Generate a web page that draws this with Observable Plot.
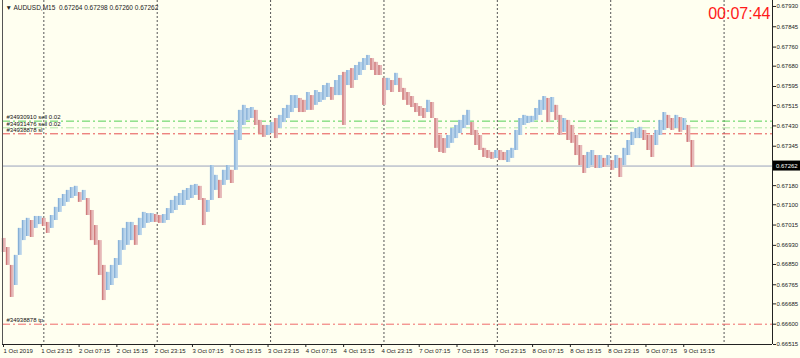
<!DOCTYPE html>
<html><head><meta charset="utf-8">
<script src="https://cdn.jsdelivr.net/npm/d3@7"></script>
<script src="https://cdn.jsdelivr.net/npm/@observablehq/plot@0.6"></script>
<style>
html,body{margin:0;padding:0;background:#fffff0;}
#chart svg{display:block}
</style></head><body><div id="chart"></div>
<script>
const headerText = "▼ AUDUSD,M15  0.67264 0.67298 0.67260 0.67262";
const clockText = "00:07:44";

// candle groups (each ~3.39 M15 bars), high and low prices
const hi = [0.66959,0.66921,0.66846,0.66888,0.67001,0.67034,0.67043,0.67034,0.67051,0.67051,
0.67043,0.67026,0.67055,0.67089,0.67126,0.67143,0.67160,0.67172,0.67177,0.67151,
0.67160,0.67126,0.67076,0.67013,0.66950,0.66846,0.66817,0.66846,0.66875,0.66950,
0.67001,0.67026,0.67026,0.67013,0.67043,0.67068,0.67063,0.67063,0.67059,0.67055,
0.67059,0.67084,0.67118,0.67135,0.67147,0.67160,0.67168,0.67181,0.67185,0.67177,
0.67126,0.67118,0.67264,0.67223,0.67202,0.67244,0.67264,0.67244,0.67411,0.67495,
0.67516,0.67503,0.67507,0.67495,0.67453,0.67432,0.67432,0.67444,0.67461,0.67474,
0.67503,0.67516,0.67557,0.67557,0.67545,0.67537,0.67570,0.67557,0.67578,0.67570,
0.67599,0.67608,0.67591,0.67620,0.67641,0.67654,0.67662,0.67670,0.67683,0.67696,
0.67712,0.67725,0.67712,0.67696,0.67683,0.67629,0.67629,0.67620,0.67650,0.67629,
0.67587,0.67570,0.67553,0.67524,0.67511,0.67503,0.67537,0.67528,0.67461,0.67390,
0.67377,0.67390,0.67419,0.67432,0.67453,0.67474,0.67495,0.67444,0.67411,0.67390,
0.67336,0.67327,0.67319,0.67327,0.67327,0.67319,0.67327,0.67336,0.67411,0.67461,
0.67474,0.67470,0.67470,0.67503,0.67537,0.67553,0.67545,0.67549,0.67516,0.67474,
0.67461,0.67453,0.67432,0.67390,0.67348,0.67306,0.67319,0.67327,0.67306,0.67306,
0.67294,0.67306,0.67285,0.67306,0.67294,0.67336,0.67369,0.67403,0.67419,0.67424,
0.67411,0.67390,0.67390,0.67411,0.67453,0.67486,0.67474,0.67461,0.67474,0.67465,
0.67461,0.67432,0.67369];
const lo = [0.66900,0.66846,0.66712,0.66762,0.66888,0.66950,0.66967,0.66963,0.67001,0.67017,
0.67009,0.66980,0.67001,0.67034,0.67068,0.67093,0.67110,0.67126,0.67135,0.67110,
0.67118,0.67055,0.66950,0.66930,0.66804,0.66699,0.66741,0.66762,0.66791,0.66846,
0.66909,0.66930,0.66950,0.66930,0.66971,0.67001,0.67022,0.67026,0.67026,0.67022,
0.67022,0.67034,0.67063,0.67076,0.67097,0.67097,0.67118,0.67126,0.67139,0.67118,
0.67013,0.67068,0.67118,0.67160,0.67126,0.67181,0.67202,0.67189,0.67244,0.67369,
0.67432,0.67453,0.67461,0.67432,0.67398,0.67382,0.67390,0.67398,0.67377,0.67419,
0.67444,0.67461,0.67486,0.67503,0.67486,0.67486,0.67495,0.67495,0.67516,0.67528,
0.67537,0.67549,0.67537,0.67557,0.67557,0.67432,0.67599,0.67587,0.67620,0.67641,
0.67662,0.67683,0.67662,0.67641,0.67641,0.67516,0.67578,0.67570,0.67599,0.67570,
0.67537,0.67516,0.67507,0.67486,0.67470,0.67461,0.67486,0.67461,0.67336,0.67319,
0.67315,0.67336,0.67357,0.67377,0.67398,0.67419,0.67432,0.67390,0.67348,0.67327,
0.67298,0.67294,0.67290,0.67294,0.67285,0.67285,0.67277,0.67294,0.67327,0.67390,
0.67432,0.67440,0.67444,0.67453,0.67474,0.67495,0.67444,0.67486,0.67453,0.67390,
0.67403,0.67369,0.67357,0.67306,0.67264,0.67231,0.67252,0.67264,0.67252,0.67252,
0.67256,0.67264,0.67244,0.67252,0.67214,0.67264,0.67306,0.67348,0.67377,0.67377,
0.67369,0.67327,0.67298,0.67348,0.67390,0.67411,0.67419,0.67411,0.67419,0.67403,
0.67411,0.67361,0.67256];
const firstBar = 1;
const barsPerCandle = 3.39;

const xTickBars = [0,32,64,96,128,160,192,224,256,288,320,352,384,416,448,480,512,544,576];
const xTickLabels = ["1 Oct 2019","1 Oct 23:15","2 Oct 07:15","2 Oct 15:15","2 Oct 23:15","3 Oct 07:15",
"3 Oct 15:15","3 Oct 23:15","4 Oct 07:15","4 Oct 15:15","4 Oct 23:15","7 Oct 07:15","7 Oct 15:15",
"7 Oct 23:15","8 Oct 07:15","8 Oct 15:15","8 Oct 23:15","9 Oct 07:15","9 Oct 15:15"];
const daySeparatorBars = [35,131,227,323,419,515,611];
const xDomain = [0, 652];

const yTickValues = [0.67930,0.67845,0.67760,0.67680,0.67595,0.67515,0.67430,0.67345,0.67180,
0.67100,0.67015,0.66930,0.66850,0.66765,0.66685,0.66600,0.66515];
const yDomain = [0.66515, 0.67955];
const currentPrice = 0.67262;

const orderLabels = ["#34930910 sell 0.02", "#34931476 sell 0.02", "#34938878 sl", "#34938878 tp"];
const orderPrices = [0.67450, 0.67422, 0.67397, 0.66600];
const orderColors = ["#55d055", "#aee6a4", "#e65050", "#ef6a6a"];
const orderWeights = ["normal", "normal", "bold", "bold"];

const candles = hi.map((h, i) => ({
  bar: firstBar + i * barsPerCandle,
  hi: h, lo: lo[i],
  up: i === 0 ? false : (h + lo[i]) >= (hi[i-1] + lo[i-1])
}));
const orders = orderLabels.map((l, i) => ({label: l, price: orderPrices[i], color: orderColors[i], weight: orderWeights[i]}));
const tickLabelMap = new Map(xTickBars.map((b, i) => [b, xTickLabels[i]]));

const FONT = "Liberation Sans, Arial, sans-serif";

const chart = Plot.plot({
  width: 800, height: 358,
  marginTop: 0, marginBottom: 14, marginLeft: 2, marginRight: 28,
  style: {background: "#fffff0", fontFamily: FONT, color: "#222"},
  x: {domain: xDomain, axis: null},
  y: {domain: yDomain, axis: null},
  marks: [
    Plot.ruleX(daySeparatorBars, {stroke: "#555", strokeWidth: 1, strokeDasharray: "2,2"}),
    Plot.ruleY([currentPrice], {stroke: "#9aa3bc", strokeWidth: 1}),
    Plot.ruleY(orders, {y: "price", stroke: "color", strokeWidth: 1, strokeDasharray: "8,3,2,3"}),
    Plot.ruleX(candles, {x: "bar", y1: "lo", y2: "hi", stroke: d => d.up ? "#b6d2ea" : "#e6b8b8", strokeWidth: 4.1}),
    Plot.ruleX(candles, {x: "bar", y1: "lo", y2: "hi", dx: -1, stroke: d => d.up ? "#7aa7d2" : "#c96a6a", strokeWidth: 1}),
    Plot.text(orders, {y: "price", text: "label", frameAnchor: "left", textAnchor: "start", dx: 4, dy: -4,
      fontSize: 6, fill: "#111", fontWeight: "weight"}),
    Plot.ruleX([xDomain[0]], {stroke: "#555", strokeWidth: 1}),
    Plot.ruleX([xDomain[1]], {stroke: "#222", strokeWidth: 1}),
    Plot.ruleY([yDomain[0]], {stroke: "#222", strokeWidth: 1}),
    Plot.axisY({anchor: "right", ticks: yTickValues, tickFormat: d3.format(".5f"), tickSize: 3, tickPadding: 1,
      fontSize: 6, fill: "#222", stroke: "#222", label: null}),
    Plot.axisX({anchor: "bottom", ticks: xTickBars, tickFormat: d => tickLabelMap.get(d), tickSize: 3, tickPadding: 1,
      textAnchor: "start", dx: 1, fontSize: 6, fill: "#222", stroke: "#222", label: null}),
    Plot.text([headerText], {frameAnchor: "top-left", textAnchor: "start", lineAnchor: "middle", dx: 3, dy: 7,
      fontSize: 6.5, fill: "#222"}),
    Plot.text([clockText], {frameAnchor: "top-right", textAnchor: "end", lineAnchor: "middle", dx: -2, dy: 13,
      fontSize: 16, fill: "#ff1a1a", fontFamily: FONT})
  ]
});

// current price marker on the price axis
const svg = d3.select(chart);
const yc = chart.scale("y").apply(currentPrice);
const xr = chart.scale("x").apply(xDomain[1]);
svg.append("rect").attr("x", xr + 1).attr("y", yc - 5).attr("width", 800 - xr - 1).attr("height", 10).attr("fill", "#000");
svg.append("text").attr("x", xr + 4).attr("y", yc).attr("dy", "0.35em").attr("font-size", 6)
  .attr("text-anchor", "start").attr("font-family", FONT).attr("fill", "#fff").text(d3.format(".5f")(currentPrice));

document.getElementById("chart").appendChild(chart);
</script></body></html>
